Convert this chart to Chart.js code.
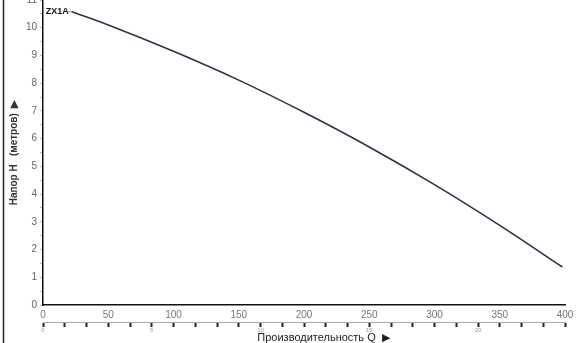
<!DOCTYPE html>
<html>
<head>
<meta charset="utf-8">
<script src="https://cdn.jsdelivr.net/npm/chart.js@4.4.0/dist/chart.umd.min.js"></script>
<style>
  html, body { margin: 0; padding: 0; background: #fff; overflow: hidden; }
  #wrap { width: 576px; height: 343px; position: relative; }
</style>
</head>
<body>
<div id="wrap"><canvas id="chart" width="576" height="343"></canvas></div>
<script>
// flow in l/min and head in metres
var flow_lpm = [22, 50, 100, 150, 200, 250, 300, 350, 398];
var head_m = [10.58, 10.10, 9.15, 8.11, 6.95, 5.70, 4.34, 2.87, 1.37];
var pump_name = "ZX1A";
var x_title = "Производительность Q  ▶";
var y_title = "Напор H   (метров)  ▶";
var flow_max = 400;
var head_max = 11;
var m3h_max = 24;   // 400 l/min = 24 m3/h

var points = []
for (var i = 0; i < flow_lpm.length; i++) {
    points.push({x: flow_lpm[i], y: head_m[i]})
}

var extras = {
    id: "extras",
    afterDraw: function(chart) {
        var ctx = chart.ctx;
        ctx.save();
        // left frame line
        ctx.strokeStyle = "#222";
        ctx.lineWidth = 1.5;
        ctx.beginPath();
        ctx.moveTo(3.5, 0);
        ctx.lineTo(3.5, 343);
        ctx.stroke();

        // pump name at the start of the curve
        var first = chart.getDatasetMeta(0).data[0];
        ctx.fillStyle = "#111";
        ctx.font = "bold 9px 'Liberation Sans', Arial, sans-serif";
        ctx.textAlign = "right";
        ctx.textBaseline = "middle";
        ctx.fillText(pump_name, first.x - 3, first.y);
        ctx.strokeStyle = "#333";
        ctx.lineWidth = 1;
        ctx.setLineDash([1, 1]);
        ctx.beginPath();
        ctx.moveTo(first.x - 3, first.y);
        ctx.lineTo(first.x, first.y);
        ctx.stroke();
        ctx.setLineDash([]);

        // bottom title
        var x2 = chart.scales.x2;
        ctx.fillStyle = "#222";
        ctx.font = "11px 'Liberation Sans', Arial, sans-serif";
        ctx.textAlign = "center";
        ctx.fillText(x_title, x2.getPixelForValue(12.9), 338);
        ctx.restore();
    }
};

var chart = new Chart(document.getElementById("chart"), {
    type: "line",
    data: {
        datasets: [
            {
                label: pump_name,
                data: points,
                borderColor: "#2c3344",
                borderWidth: 1.6,
                pointRadius: 0,
                cubicInterpolationMode: "monotone",
                fill: false
            }
        ]
    },
    options: {
        responsive: false,
        animation: false,
        layout: { padding: { left: 0, right: 11, top: 0, bottom: 0 } },
        plugins: {
            legend: { display: false },
            tooltip: { enabled: false }
        },
        scales: {
            x: {
                type: "linear",
                position: "bottom",
                min: 0,
                max: flow_max,
                grid: { display: false, drawTicks: false },
                border: { display: true, color: "#111", width: 1.5 },
                ticks: {
                    stepSize: 50,
                    color: "#777",
                    font: { size: 10, family: "'Liberation Sans', Arial, sans-serif" },
                    padding: 4,
                    maxRotation: 0
                },
                afterFit: function(scale) {
                    scale.height = 17;
                    scale.paddingLeft = 0;
                    scale.paddingRight = 0;
                }
            },
            x2: {
                type: "linear",
                position: "bottom",
                min: 0,
                max: m3h_max,
                grid: { display: true, drawOnChartArea: false, tickLength: 5, tickWidth: 2, tickColor: "#222" },
                border: { display: true, color: "#aaa", width: 1 },
                ticks: {
                    stepSize: 1,
                    color: "#999",
                    font: { size: 6, family: "'Liberation Sans', Arial, sans-serif" },
                    padding: 0,
                    maxRotation: 0,
                    autoSkip: false,
                    callback: function(v) { return v % 5 === 0 ? v : ""; }
                },
                afterFit: function(scale) {
                    scale.height = 21;
                    scale.paddingLeft = 0;
                    scale.paddingRight = 0;
                }
            },
            y: {
                type: "linear",
                min: 0,
                max: head_max,
                grid: { display: true, drawOnChartArea: false, tickLength: 3, tickColor: "#bbb" },
                border: { display: true, color: "#111", width: 1.5 },
                ticks: {
                    stepSize: 0.5,
                    autoSkip: false,
                    color: "#666",
                    font: { size: 10, family: "'Liberation Sans', Arial, sans-serif" },
                    padding: 3,
                    callback: function(v) { return Number.isInteger(v) ? v : ""; }
                },
                title: {
                    display: true,
                    text: y_title,
                    color: "#333",
                    font: { size: 10, weight: "bold", family: "'Liberation Sans', Arial, sans-serif" },
                    padding: { top: 8, bottom: 0 }
                },
                afterFit: function(scale) {
                    scale.width = 43;
                    scale.paddingTop = 0;
                    scale.paddingBottom = 0;
                }
            }
        }
    },
    plugins: [extras]
});
</script>
</body>
</html>
